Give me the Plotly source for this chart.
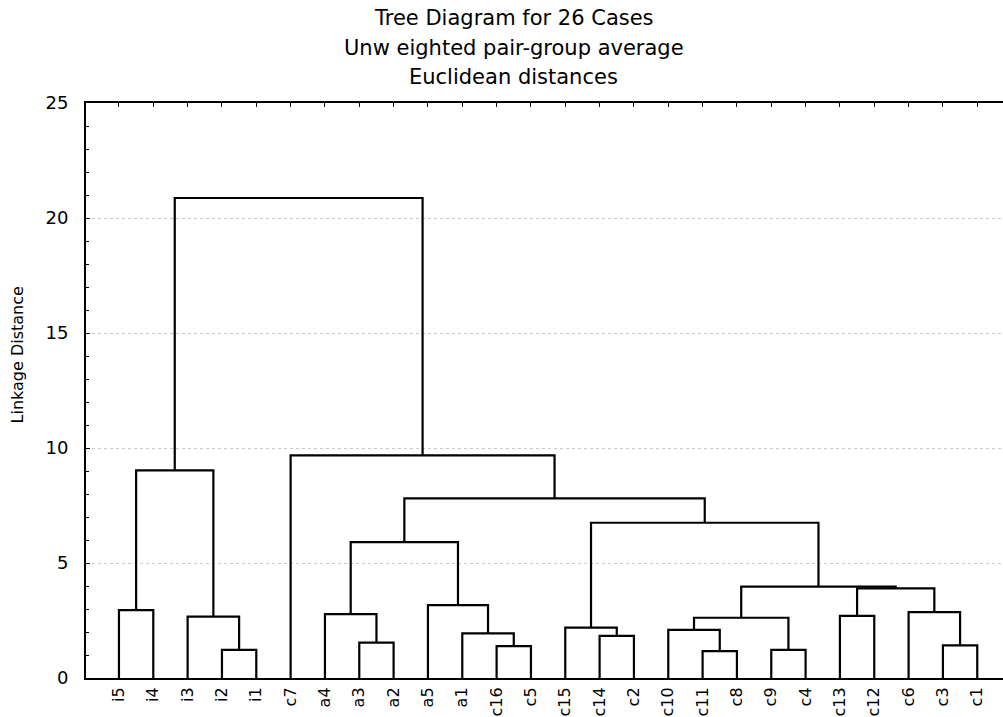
import plotly.graph_objects as go

# ---- data ----
leaves = ["i5", "i4", "i3", "i2", "i1", "c7", "a4", "a3", "a2", "a5", "a1", "c16", "c5",
          "c15", "c14", "c2", "c10", "c11", "c8", "c9", "c4", "c13", "c12", "c6", "c3", "c1"]

# merges: children are leaf names or "M<k>" (k-th merge), with linkage distance
merge_left = ["i2", "i5", "i3", "M1", "a3", "a4", "c16", "a1", "a5", "M5",
              "c14", "c15", "c11", "c10", "c9", "M13", "c13", "c3", "c6", "M16",
              "M15", "M11", "M9", "c7", "M3"]
merge_right = ["i1", "i4", "M0", "M2", "a2", "M4", "c5", "M6", "M7", "M8",
               "c2", "M10", "c8", "M12", "c4", "M14", "c12", "c1", "M17", "M18",
               "M19", "M20", "M21", "M22", "M23"]
merge_height = [1.22, 2.95, 2.67, 9.03, 1.54, 2.78, 1.39, 1.94, 3.17, 5.91,
                1.83, 2.19, 1.17, 2.09, 1.22, 2.62, 2.70, 1.42, 2.86, 3.90,
                3.97, 6.75, 7.81, 9.68, 20.87]

title_lines = ["Tree Diagram for 26 Cases", "Unw eighted pair-group average", "Euclidean distances"]
y_label = "Linkage Distance"
y_ticks = [0, 5, 10, 15, 20, 25]

# ---- build dendrogram paths ----
pos = {name: i for i, name in enumerate(leaves)}
hgt = {name: 0.0 for name in leaves}
xs, ys = [], []
for k, (l, r, h) in enumerate(zip(merge_left, merge_right, merge_height)):
    xl, xr = pos[l], pos[r]
    xs += [xl, xl, xr, xr, None]
    ys += [hgt[l], h, h, hgt[r], None]
    pos[f"M{k}"] = (xl + xr) / 2
    hgt[f"M{k}"] = h

fig = go.Figure()
fig.add_trace(go.Scatter(x=xs, y=ys, mode="lines",
                         line=dict(color="black", width=2.2),
                         hoverinfo="skip", showlegend=False))

fig.update_layout(
    width=1003, height=717,
    margin=dict(l=86, r=0, t=103, b=39),
    paper_bgcolor="white", plot_bgcolor="white",
    font=dict(family="DejaVu Sans", color="black"),
    showlegend=False,
)

fig.update_xaxes(
    range=[-0.96, 25.75],
    tickmode="array", tickvals=list(range(len(leaves))), ticktext=leaves,
    tickangle=-90, tickfont=dict(size=16, family="DejaVu Sans", color="black"),
    ticks="inside", ticklen=4, tickcolor="black", tickwidth=1,
    showline=True, linecolor="black", linewidth=2, mirror="ticks",
    showgrid=False, zeroline=False, ticklabelstandoff=1, automargin=False,
)
fig.update_yaxes(
    range=[0, 25],
    tickmode="array", tickvals=y_ticks,
    tickfont=dict(size=18, family="DejaVu Sans", color="black"),
    ticks="inside", ticklen=4, tickcolor="black", tickwidth=1,
    minor=dict(ticks="inside", dtick=1, ticklen=3, tickcolor="black", showgrid=False),
    showline=True, linecolor="black", linewidth=2, mirror=False,
    showgrid=True, gridcolor="#c8c8c8", griddash="dot", gridwidth=1,
    zeroline=False, ticklabelstandoff=12, automargin=False,
)

# titles
title_y = [1.1478, 1.0957, 1.0452]
for txt, yy in zip(title_lines, title_y):
    fig.add_annotation(text=txt, xref="paper", yref="paper", x=0.4667, y=yy,
                       xanchor="center", yanchor="middle", showarrow=False,
                       font=dict(size=21, family="DejaVu Sans", color="black"))
fig.add_annotation(text=y_label, xref="paper", yref="paper", x=-0.0742, y=0.5626,
                   xanchor="center", yanchor="middle", textangle=-90, showarrow=False,
                   font=dict(size=16, family="DejaVu Sans", color="black"))

fig.write_html("out.html")
